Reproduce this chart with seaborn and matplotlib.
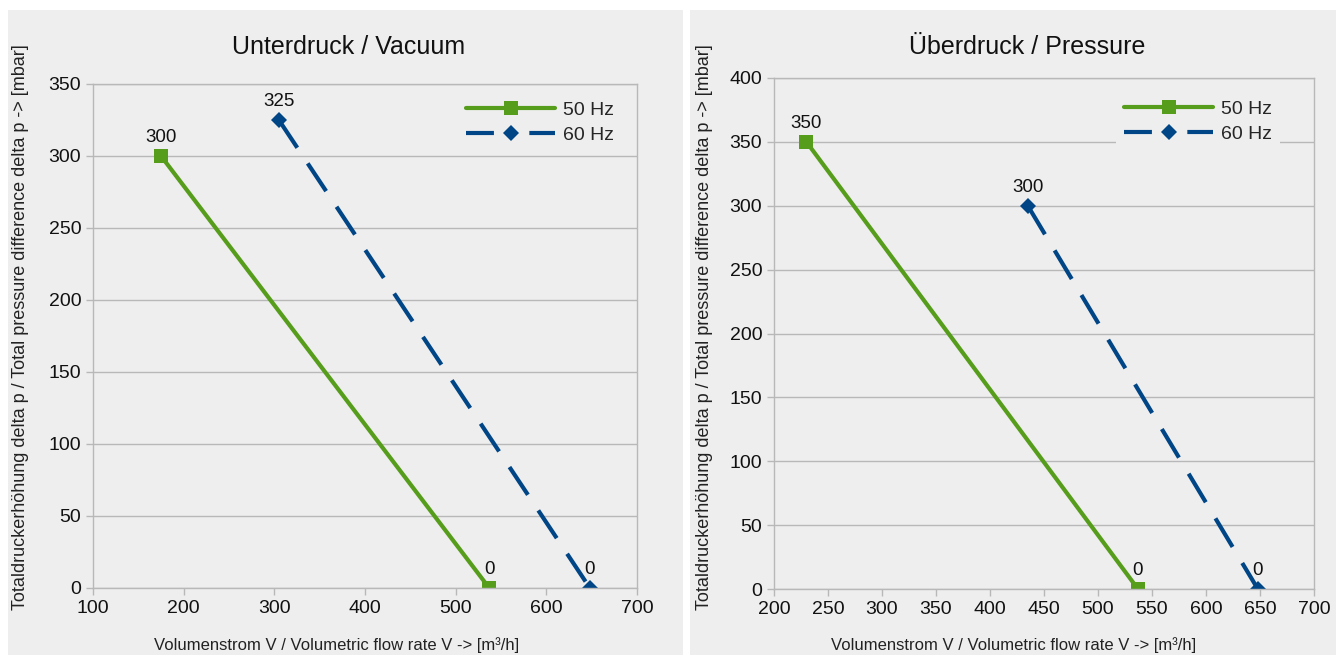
import matplotlib.pyplot as plt
import matplotlib.patches as mpatches
import pandas as pd
import seaborn as sns

# values
freqs = ['50 Hz', '60 Hz']

vac_flow_50 = [175, 537]
vac_dp_50 = [300, 0]
vac_flow_60 = [305, 648]
vac_dp_60 = [325, 0]

prs_flow_50 = [230, 537]
prs_dp_50 = [350, 0]
prs_flow_60 = [435, 648]
prs_dp_60 = [300, 0]

vac_xticks = [100, 200, 300, 400, 500, 600, 700]
vac_yticks = [0, 50, 100, 150, 200, 250, 300, 350]
prs_xticks = [200, 250, 300, 350, 400, 450, 500, 550, 600, 650, 700]
prs_yticks = [0, 50, 100, 150, 200, 250, 300, 350, 400]

titles = ['Unterdruck / Vacuum', 'Überdruck / Pressure']
xlabel = 'Volumenstrom V / Volumetric flow rate V -> [m³/h]'
ylabel = 'Totaldruckerhöhung delta p / Total pressure difference delta p -> [mbar]'


def make_df(f50, d50, f60, d60):
    return pd.DataFrame({'flow': f50 + f60,
                         'dp': d50 + d60,
                         'freq': [freqs[0]] * len(f50) + [freqs[1]] * len(f60)})


data_vac = make_df(vac_flow_50, vac_dp_50, vac_flow_60, vac_dp_60)
data_prs = make_df(prs_flow_50, prs_dp_50, prs_flow_60, prs_dp_60)

sns.set_theme(style='white')
plt.rcParams['font.family'] = ['Liberation Sans', 'DejaVu Sans']

green = '#579d1c'
blue = '#004586'
panel_bg = '#eeeeee'
grid_col = '#b8b8b8'

W, H = 1336, 655
fig = plt.figure(figsize=(W / 100, H / 100), dpi=100, facecolor='white')

# grey panel backgrounds (behind the axes)
fig.patches.append(mpatches.Rectangle((8 / W, 0), 675 / W, 645 / H, transform=fig.transFigure,
                                      facecolor=panel_bg, edgecolor='none', zorder=-5))
fig.patches.append(mpatches.Rectangle((690 / W, 0), 646 / W, 645 / H, transform=fig.transFigure,
                                      facecolor=panel_bg, edgecolor='none', zorder=-5))

# axes boxes in pixels: x0, x1, ytop, ybottom
boxes = [(93, 637, 84, 588), (774, 1314, 78, 589)]
axs = []
for x0, x1, yt, yb in boxes:
    axs.append(fig.add_axes([x0 / W, 1 - yb / H, (x1 - x0) / W, (yb - yt) / H]))

setups = [
    (data_vac, vac_xticks, vac_yticks, (0.99, 1.0), (-0.118, 0.518), (0.448, -0.097), (0.47, 1.073)),
    (data_prs, prs_xticks, prs_yticks, (0.955, 0.99), (-0.113, 0.513), (0.444, -0.094), (0.469, 1.061)),
]

for i, (df, xt, yt, leg_pos, ylab_pos, xlab_pos, title_pos) in enumerate(setups):
    ax = axs[i]
    ax.set_facecolor(panel_bg)
    sns.lineplot(data=df, x='flow', y='dp', hue='freq', style='freq', ax=ax,
                 palette={'50 Hz': green, '60 Hz': blue},
                 markers={'50 Hz': 's', '60 Hz': 'D'},
                 dashes={'50 Hz': '', '60 Hz': (8, 4.5)},
                 linewidth=3, markersize=10, markeredgewidth=0)
    # make the diamonds a bit smaller than the squares
    for ln in ax.get_lines():
        if ln.get_marker() == 'D':
            ln.set_markersize(8)

    # value labels above each point
    for _, row in df.iterrows():
        ax.annotate(str(int(row['dp'])), (row['flow'], row['dp']), xytext=(0, 7),
                    textcoords='offset points', ha='center', va='bottom',
                    fontsize=13.5, color='#111111')

    ax.set_xlim(xt[0], xt[-1])
    ax.set_ylim(yt[0], yt[-1])
    ax.set_xticks(xt)
    ax.set_yticks(yt)
    ax.tick_params(axis='both', labelsize=14, colors='#111111', length=5, width=1,
                   color=grid_col, direction='out', bottom=True, left=True)
    ax.grid(axis='y', color=grid_col, linewidth=1)
    ax.grid(axis='x', visible=False)
    for sp in ax.spines.values():
        sp.set_color(grid_col)
        sp.set_linewidth(1)

    ax.set_xlabel(xlabel, fontsize=12, color='#222222')
    ax.set_ylabel(ylabel, fontsize=13, color='#222222')
    ax.xaxis.set_label_coords(*xlab_pos)
    ax.yaxis.set_label_coords(*ylab_pos)
    ax.text(title_pos[0], title_pos[1], titles[i], transform=ax.transAxes,
            ha='center', va='center', fontsize=18, color='#111111')

    handles, labels = ax.get_legend_handles_labels()
    leg = ax.legend(handles, labels, loc='upper right', bbox_to_anchor=leg_pos,
                    fontsize=14, handlelength=4.6, frameon=True, facecolor=panel_bg,
                    edgecolor='none', framealpha=1, borderpad=0.4, labelspacing=0.35,
                    handletextpad=0.4)
    # 60 Hz legend line: dash - gap round the diamond - dash
    leg.get_lines()[1].set_dashes((6.7, 8.5))

fig.savefig('out.png', dpi=100, facecolor='white')
